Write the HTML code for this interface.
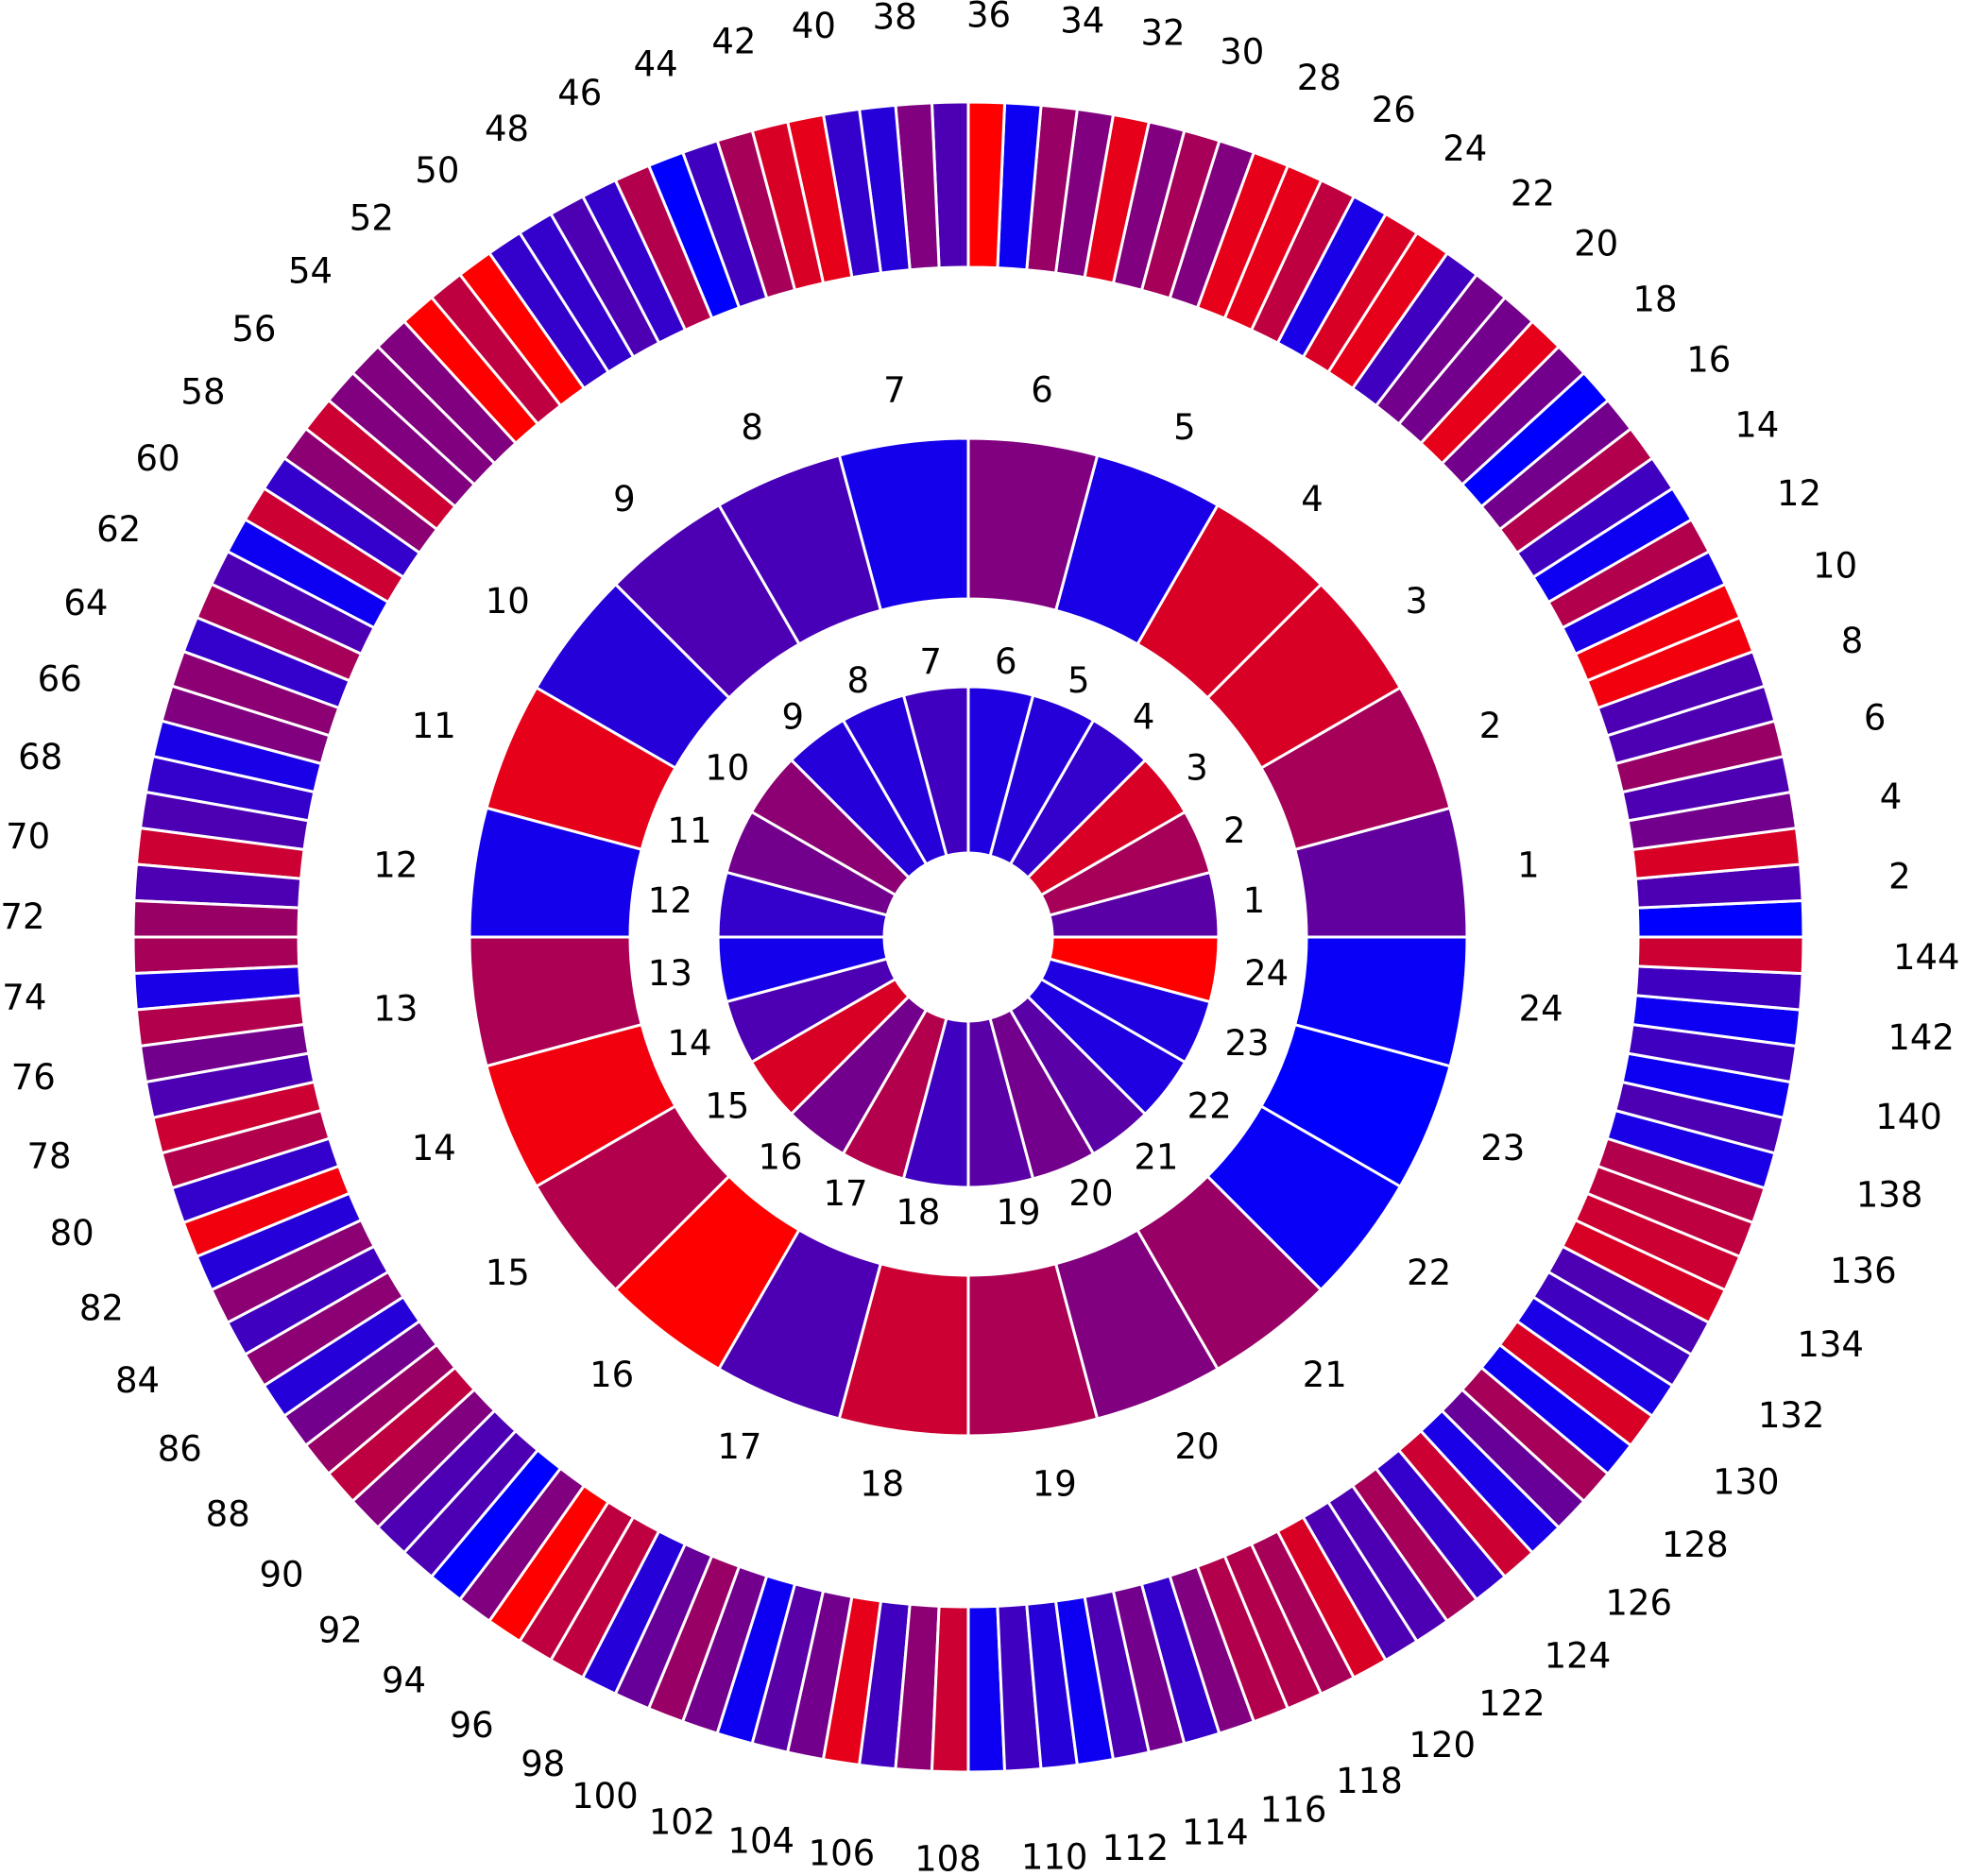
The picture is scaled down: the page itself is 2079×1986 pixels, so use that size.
<!DOCTYPE html>
<html><head><meta charset="utf-8"><style>
html,body{margin:0;padding:0;background:#fff;}
svg{display:block;}
text{font-family:"DejaVu Sans","Liberation Sans",sans-serif;font-size:37px;fill:#000;}
</style></head><body>
<svg id="chart" width="2079" height="1986" viewBox="0 0 2079 1986" xmlns="http://www.w3.org/2000/svg"></svg>
<script>
const innerValues = [0.35,0.65,0.85,0.2,0.15,0.12,0.25,0.15,0.15,0.55,0.45,0.2,0.08,0.3,0.85,0.45,0.7,0.25,0.35,0.45,0.35,0.12,0.12,1.0];
const middleValues = [0.38,0.65,0.85,0.85,0.1,0.5,0.08,0.28,0.3,0.15,0.9,0.08,0.67,0.95,0.7,1.0,0.3,0.8,0.67,0.5,0.6,0.03,0.0,0.03];
const outerValues = [
0.0,0.3,0.85,0.45,0.3,0.6,0.3,0.3,0.95,0.95,0.1,0.7,0.05,0.25,0.7,0.45,0.0,0.45,0.9,0.45,0.45,0.25,0.9,0.85,0.1,0.75,0.9,0.9,0.5,0.65,0.5,0.9,0.5,0.6,0.05,1.0,
0.3,0.5,0.15,0.2,0.9,0.85,0.65,0.25,0.0,0.7,0.2,0.3,0.2,0.2,1.0,0.75,1.0,0.5,0.5,0.5,0.8,0.55,0.2,0.8,0.05,0.3,0.65,0.2,0.55,0.5,0.1,0.2,0.3,0.8,0.3,0.6,
0.65,0.1,0.7,0.45,0.3,0.8,0.7,0.2,0.95,0.15,0.55,0.25,0.55,0.15,0.45,0.6,0.75,0.5,0.3,0.3,0.0,0.5,1.0,0.75,0.75,0.15,0.4,0.6,0.45,0.05,0.35,0.45,0.9,0.25,0.55,0.8,
0.05,0.25,0.15,0.05,0.3,0.45,0.2,0.5,0.7,0.7,0.65,0.85,0.3,0.3,0.65,0.2,0.8,0.1,0.4,0.65,0.05,0.85,0.1,0.25,0.3,0.85,0.8,0.75,0.7,0.1,0.3,0.05,0.25,0.05,0.25,0.8];
const innerLabels = innerValues.map((v,i)=>String(i+1));
const middleLabels = middleValues.map((v,i)=>String(i+1));
const outerLabels = outerValues.map((v,i)=>String(i+1));

const svg = document.getElementById('chart');
const NS = 'http://www.w3.org/2000/svg';
const CX = 1025, CY = 992, S = 1.3259;
function color(v){ return 'rgb('+Math.round(255*v)+',0,'+Math.round(255*(1-v))+')'; }
function pt(r,a){ const t=a*Math.PI/180; return [CX+r*Math.cos(t), CY-r*Math.sin(t)]; }
function ring(values, labels, r0, r1, rlx, rly, name, labelEvery){
  const n = values.length, step = 360/n;
  const g = document.createElementNS(NS,'g');
  
  
  svg.appendChild(g);
  values.forEach((v,i)=>{
    const a0 = i*step, a1 = (i+1)*step;
    const p1=pt(r1,a0), p2=pt(r1,a1), p3=pt(r0,a1), p4=pt(r0,a0);
    const d = 'M'+p1+' A'+r1+','+r1+' 0 0 0 '+p2+' L'+p3+' A'+r0+','+r0+' 0 0 1 '+p4+' Z';
    const path = document.createElementNS(NS,'path');
    path.setAttribute('d', d);
    path.setAttribute('fill', color(v));
    path.setAttribute('stroke', '#fff');
    path.setAttribute('stroke-width', '3');
    
    
    g.appendChild(path);
    if ((i+1) % labelEvery === 0){
      const am = (i+0.5)*step;
      const t0 = am*Math.PI/180;
      const c = Math.cos(t0);
      const px = CX + rlx*c, py = CY - rly*Math.sin(t0);
      const off = (Math.abs(c)>0.05 ? Math.sign(c) : 0)*(labels[i].length-1)*10*S;
      const t = document.createElementNS(NS,'text');
      t.setAttribute('x', px+off);
      t.setAttribute('y', py);
      t.setAttribute('text-anchor','middle');
      t.setAttribute('dominant-baseline','central');
      
      
      t.textContent = labels[i];
      g.appendChild(t);
    }
  });
}
ring(innerValues, innerLabels, 89, 265, 305, 294, 'inner-ring', 1);
ring(middleValues, middleLabels, 358, 528, 598, 584, 'middle-ring', 1);
ring(outerValues, outerLabels, 709, 884, 988, 976, 'outer-ring', 2);
</script>
</body></html>
